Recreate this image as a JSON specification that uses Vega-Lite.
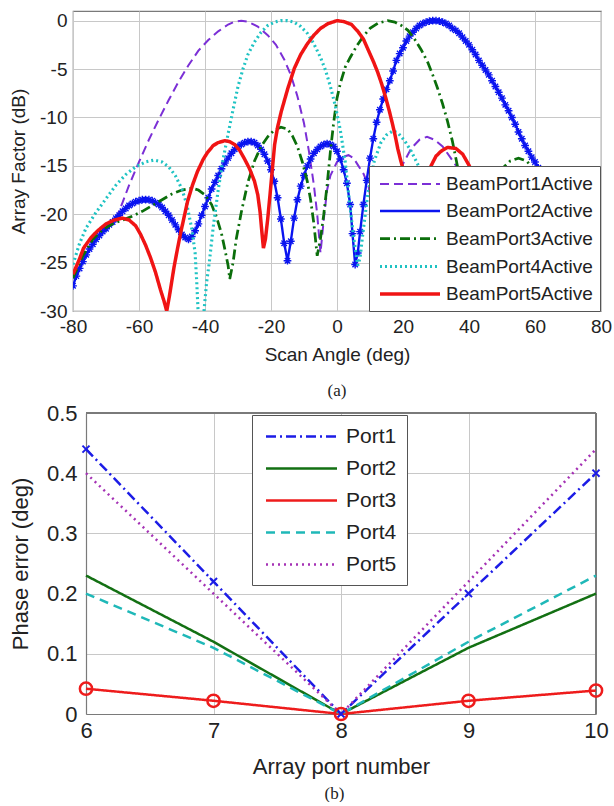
{
  "$schema": "https://vega.github.io/schema/vega-lite/v6.json",
  "background": "white",
  "padding": {"left": 8, "top": 10, "right": 2, "bottom": 0},
  "config": {
    "font": "Liberation Sans",
    "view": {"stroke": "#7a7a7a", "strokeWidth": 1.2},
    "axis": {"grid": true, "gridColor": "#c8c8c8", "gridWidth": 1, "domain": false, "ticks": false, "labelFont": "Liberation Sans", "titleFont": "Liberation Sans", "labelColor": "#222222", "titleColor": "#222222", "titleFontWeight": "normal", "labelFlush": false, "labelOverlap": false},
    "title": {"font": "Liberation Serif", "fontWeight": "normal", "color": "#222222"}
  },
  "datasets": {
    "af": [
      {"s":"BeamPort1Active","x":-67,"y":-20.5},{"s":"BeamPort1Active","x":-65,"y":-18.8},{"s":"BeamPort1Active","x":-63,"y":-17},{"s":"BeamPort1Active","x":-60,"y":-14.6},{"s":"BeamPort1Active","x":-57,"y":-12.3},{"s":"BeamPort1Active","x":-54,"y":-10.2},{"s":"BeamPort1Active","x":-51,"y":-8.2},{"s":"BeamPort1Active","x":-48,"y":-6.3},{"s":"BeamPort1Active","x":-45,"y":-4.6},{"s":"BeamPort1Active","x":-42,"y":-3.1},{"s":"BeamPort1Active","x":-39,"y":-2.0},{"s":"BeamPort1Active","x":-36,"y":-1.1},{"s":"BeamPort1Active","x":-33,"y":-0.4},{"s":"BeamPort1Active","x":-31,"y":-0.1},{"s":"BeamPort1Active","x":-29,"y":0},{"s":"BeamPort1Active","x":-27,"y":-0.1},{"s":"BeamPort1Active","x":-24,"y":-0.6},{"s":"BeamPort1Active","x":-21,"y":-1.5},{"s":"BeamPort1Active","x":-18.5,"y":-2.5},{"s":"BeamPort1Active","x":-16,"y":-4.0},{"s":"BeamPort1Active","x":-14,"y":-5.6},{"s":"BeamPort1Active","x":-12,"y":-7.8},{"s":"BeamPort1Active","x":-10,"y":-10.6},{"s":"BeamPort1Active","x":-8.5,"y":-13.5},{"s":"BeamPort1Active","x":-7,"y":-17},{"s":"BeamPort1Active","x":-6,"y":-20},{"s":"BeamPort1Active","x":-5,"y":-24},{"s":"BeamPort1Active","x":-4,"y":-20.5},{"s":"BeamPort1Active","x":-3,"y":-17.5},{"s":"BeamPort1Active","x":-2,"y":-16},{"s":"BeamPort1Active","x":0,"y":-14.6},{"s":"BeamPort1Active","x":1.5,"y":-14.1},{"s":"BeamPort1Active","x":3.5,"y":-13.9},{"s":"BeamPort1Active","x":5,"y":-14.2},{"s":"BeamPort1Active","x":6.5,"y":-15},{"s":"BeamPort1Active","x":8,"y":-15.8},{"s":"BeamPort1Active","x":9.5,"y":-17},{"s":"BeamPort1Active","x":11,"y":-20},{"s":"BeamPort1Active","x":12.5,"y":-24},{"s":"BeamPort1Active","x":14,"y":-21},{"s":"BeamPort1Active","x":16,"y":-18},{"s":"BeamPort1Active","x":18,"y":-16.5},{"s":"BeamPort1Active","x":20,"y":-14.8},{"s":"BeamPort1Active","x":22.5,"y":-13.2},{"s":"BeamPort1Active","x":25,"y":-12.3},{"s":"BeamPort1Active","x":27.3,"y":-12},{"s":"BeamPort1Active","x":29.5,"y":-12.3},{"s":"BeamPort1Active","x":32,"y":-13},{"s":"BeamPort1Active","x":34.5,"y":-14.2},{"s":"BeamPort1Active","x":36.5,"y":-15.2},{"s":"BeamPort1Active","x":38.5,"y":-17},{"s":"BeamPort1Active","x":41,"y":-20.5},{"s":"BeamPort1Active","x":43.5,"y":-25},{"s":"BeamPort1Active","x":46,"y":-21},{"s":"BeamPort1Active","x":50,"y":-18},{"s":"BeamPort1Active","x":55,"y":-17.5},{"s":"BeamPort1Active","x":60,"y":-18.5},{"s":"BeamPort1Active","x":66,"y":-20.5},{"s":"BeamPort1Active","x":72,"y":-22.5},{"s":"BeamPort1Active","x":80,"y":-25},

      {"s":"BeamPort2Active","x":-80,"y":-27.4},{"s":"BeamPort2Active","x":-79,"y":-26.4},{"s":"BeamPort2Active","x":-78,"y":-25.6},{"s":"BeamPort2Active","x":-77,"y":-24.9},{"s":"BeamPort2Active","x":-76,"y":-24.2},{"s":"BeamPort2Active","x":-75,"y":-23.6},{"s":"BeamPort2Active","x":-74,"y":-23.1},{"s":"BeamPort2Active","x":-73,"y":-22.6},{"s":"BeamPort2Active","x":-72,"y":-22.2},{"s":"BeamPort2Active","x":-71,"y":-21.8},{"s":"BeamPort2Active","x":-70,"y":-21.5},{"s":"BeamPort2Active","x":-69,"y":-21.1},{"s":"BeamPort2Active","x":-68,"y":-20.8},{"s":"BeamPort2Active","x":-67,"y":-20.4},{"s":"BeamPort2Active","x":-66,"y":-20.1},{"s":"BeamPort2Active","x":-65,"y":-19.7},{"s":"BeamPort2Active","x":-64,"y":-19.4},{"s":"BeamPort2Active","x":-63,"y":-19.1},{"s":"BeamPort2Active","x":-62,"y":-18.9},{"s":"BeamPort2Active","x":-61,"y":-18.7},{"s":"BeamPort2Active","x":-60,"y":-18.6},{"s":"BeamPort2Active","x":-59,"y":-18.5},{"s":"BeamPort2Active","x":-58,"y":-18.5},{"s":"BeamPort2Active","x":-57,"y":-18.5},{"s":"BeamPort2Active","x":-56,"y":-18.6},{"s":"BeamPort2Active","x":-55,"y":-18.8},{"s":"BeamPort2Active","x":-54,"y":-19},{"s":"BeamPort2Active","x":-53,"y":-19.3},{"s":"BeamPort2Active","x":-52,"y":-19.7},{"s":"BeamPort2Active","x":-51,"y":-20.1},{"s":"BeamPort2Active","x":-50,"y":-20.6},{"s":"BeamPort2Active","x":-49,"y":-21.1},{"s":"BeamPort2Active","x":-48,"y":-21.6},{"s":"BeamPort2Active","x":-47,"y":-22.1},{"s":"BeamPort2Active","x":-46,"y":-22.4},{"s":"BeamPort2Active","x":-45,"y":-22.6},{"s":"BeamPort2Active","x":-44,"y":-22.3},{"s":"BeamPort2Active","x":-43,"y":-21.7},{"s":"BeamPort2Active","x":-42,"y":-21},{"s":"BeamPort2Active","x":-41,"y":-20.1},{"s":"BeamPort2Active","x":-40,"y":-19.2},{"s":"BeamPort2Active","x":-39,"y":-18.3},{"s":"BeamPort2Active","x":-38,"y":-17.4},{"s":"BeamPort2Active","x":-37,"y":-16.7},{"s":"BeamPort2Active","x":-36,"y":-16},{"s":"BeamPort2Active","x":-35,"y":-15.3},{"s":"BeamPort2Active","x":-34,"y":-14.7},{"s":"BeamPort2Active","x":-33,"y":-14.2},{"s":"BeamPort2Active","x":-32,"y":-13.7},{"s":"BeamPort2Active","x":-31,"y":-13.3},{"s":"BeamPort2Active","x":-30,"y":-13},{"s":"BeamPort2Active","x":-29,"y":-12.8},{"s":"BeamPort2Active","x":-28,"y":-12.6},{"s":"BeamPort2Active","x":-27,"y":-12.5},{"s":"BeamPort2Active","x":-26,"y":-12.5},{"s":"BeamPort2Active","x":-25,"y":-12.6},{"s":"BeamPort2Active","x":-24,"y":-12.9},{"s":"BeamPort2Active","x":-23,"y":-13.3},{"s":"BeamPort2Active","x":-22,"y":-13.8},{"s":"BeamPort2Active","x":-21,"y":-14.5},{"s":"BeamPort2Active","x":-20,"y":-15.4},{"s":"BeamPort2Active","x":-19,"y":-16.6},{"s":"BeamPort2Active","x":-18,"y":-18.3},{"s":"BeamPort2Active","x":-17,"y":-20.5},{"s":"BeamPort2Active","x":-16,"y":-23},{"s":"BeamPort2Active","x":-15,"y":-24.8},{"s":"BeamPort2Active","x":-14,"y":-22.8},{"s":"BeamPort2Active","x":-13,"y":-20.4},{"s":"BeamPort2Active","x":-12,"y":-18.5},{"s":"BeamPort2Active","x":-11,"y":-17.1},{"s":"BeamPort2Active","x":-10,"y":-16},{"s":"BeamPort2Active","x":-9,"y":-15},{"s":"BeamPort2Active","x":-8,"y":-14.3},{"s":"BeamPort2Active","x":-7,"y":-13.7},{"s":"BeamPort2Active","x":-6,"y":-13.3},{"s":"BeamPort2Active","x":-5,"y":-13},{"s":"BeamPort2Active","x":-4,"y":-12.8},{"s":"BeamPort2Active","x":-3,"y":-12.7},{"s":"BeamPort2Active","x":-2,"y":-12.8},{"s":"BeamPort2Active","x":-1,"y":-13},{"s":"BeamPort2Active","x":0,"y":-13.5},{"s":"BeamPort2Active","x":1,"y":-14.3},{"s":"BeamPort2Active","x":2,"y":-15.4},{"s":"BeamPort2Active","x":3,"y":-16.8},{"s":"BeamPort2Active","x":4,"y":-19},{"s":"BeamPort2Active","x":4.7,"y":-22},{"s":"BeamPort2Active","x":5.5,"y":-25.2},{"s":"BeamPort2Active","x":6.3,"y":-24},{"s":"BeamPort2Active","x":7,"y":-21.8},{"s":"BeamPort2Active","x":8,"y":-19},{"s":"BeamPort2Active","x":9,"y":-16.5},{"s":"BeamPort2Active","x":10,"y":-14.2},{"s":"BeamPort2Active","x":11,"y":-12.2},{"s":"BeamPort2Active","x":12,"y":-10.5},{"s":"BeamPort2Active","x":13,"y":-9.2},{"s":"BeamPort2Active","x":14,"y":-8.1},{"s":"BeamPort2Active","x":15,"y":-7.1},{"s":"BeamPort2Active","x":16,"y":-6.2},{"s":"BeamPort2Active","x":17,"y":-5.2},{"s":"BeamPort2Active","x":18,"y":-4.1},{"s":"BeamPort2Active","x":19,"y":-3.4},{"s":"BeamPort2Active","x":20,"y":-2.8},{"s":"BeamPort2Active","x":21,"y":-2.1},{"s":"BeamPort2Active","x":22,"y":-1.6},{"s":"BeamPort2Active","x":23,"y":-1.2},{"s":"BeamPort2Active","x":24,"y":-0.8},{"s":"BeamPort2Active","x":25,"y":-0.5},{"s":"BeamPort2Active","x":26,"y":-0.3},{"s":"BeamPort2Active","x":27,"y":-0.15},{"s":"BeamPort2Active","x":28,"y":-0.05},{"s":"BeamPort2Active","x":29,"y":0},{"s":"BeamPort2Active","x":30,"y":0},{"s":"BeamPort2Active","x":31,"y":-0.05},{"s":"BeamPort2Active","x":32,"y":-0.15},{"s":"BeamPort2Active","x":33,"y":-0.3},{"s":"BeamPort2Active","x":34,"y":-0.5},{"s":"BeamPort2Active","x":35,"y":-0.8},{"s":"BeamPort2Active","x":36,"y":-1.0},{"s":"BeamPort2Active","x":37,"y":-1.3},{"s":"BeamPort2Active","x":38,"y":-1.7},{"s":"BeamPort2Active","x":39,"y":-2.1},{"s":"BeamPort2Active","x":40,"y":-2.5},{"s":"BeamPort2Active","x":41,"y":-3.0},{"s":"BeamPort2Active","x":42,"y":-3.5},{"s":"BeamPort2Active","x":43,"y":-4.1},{"s":"BeamPort2Active","x":44,"y":-4.6},{"s":"BeamPort2Active","x":45,"y":-5.1},{"s":"BeamPort2Active","x":46,"y":-5.6},{"s":"BeamPort2Active","x":47,"y":-6.2},{"s":"BeamPort2Active","x":48,"y":-6.8},{"s":"BeamPort2Active","x":49,"y":-7.4},{"s":"BeamPort2Active","x":50,"y":-8.0},{"s":"BeamPort2Active","x":51,"y":-8.7},{"s":"BeamPort2Active","x":52,"y":-9.3},{"s":"BeamPort2Active","x":53,"y":-10},{"s":"BeamPort2Active","x":54,"y":-10.7},{"s":"BeamPort2Active","x":55,"y":-11.5},{"s":"BeamPort2Active","x":56,"y":-12.2},{"s":"BeamPort2Active","x":57,"y":-12.9},{"s":"BeamPort2Active","x":58,"y":-13.5},{"s":"BeamPort2Active","x":59,"y":-14.1},{"s":"BeamPort2Active","x":60,"y":-14.6},{"s":"BeamPort2Active","x":61,"y":-15.2},{"s":"BeamPort2Active","x":63,"y":-16.8},{"s":"BeamPort2Active","x":66,"y":-19.5},{"s":"BeamPort2Active","x":69,"y":-24},{"s":"BeamPort2Active","x":71,"y":-27},{"s":"BeamPort2Active","x":74,"y":-25},{"s":"BeamPort2Active","x":77,"y":-26},{"s":"BeamPort2Active","x":80,"y":-27.7},

      {"s":"BeamPort3Active","x":-80,"y":-26.6},{"s":"BeamPort3Active","x":-77,"y":-24.3},{"s":"BeamPort3Active","x":-74,"y":-22.6},{"s":"BeamPort3Active","x":-71,"y":-21.6},{"s":"BeamPort3Active","x":-68,"y":-21},{"s":"BeamPort3Active","x":-65,"y":-20.6},{"s":"BeamPort3Active","x":-62,"y":-20.2},{"s":"BeamPort3Active","x":-59,"y":-19.7},{"s":"BeamPort3Active","x":-56,"y":-19.1},{"s":"BeamPort3Active","x":-53,"y":-18.5},{"s":"BeamPort3Active","x":-50,"y":-17.9},{"s":"BeamPort3Active","x":-47,"y":-17.5},{"s":"BeamPort3Active","x":-44,"y":-17.3},{"s":"BeamPort3Active","x":-42,"y":-17.5},{"s":"BeamPort3Active","x":-40,"y":-18},{"s":"BeamPort3Active","x":-38,"y":-19},{"s":"BeamPort3Active","x":-36.5,"y":-20.3},{"s":"BeamPort3Active","x":-35,"y":-22},{"s":"BeamPort3Active","x":-34,"y":-23.6},{"s":"BeamPort3Active","x":-33,"y":-25.3},{"s":"BeamPort3Active","x":-32.5,"y":-26.7},{"s":"BeamPort3Active","x":-31.5,"y":-25},{"s":"BeamPort3Active","x":-30.5,"y":-22.5},{"s":"BeamPort3Active","x":-29,"y":-19.8},{"s":"BeamPort3Active","x":-27,"y":-16.7},{"s":"BeamPort3Active","x":-25,"y":-14.5},{"s":"BeamPort3Active","x":-23,"y":-13},{"s":"BeamPort3Active","x":-21,"y":-12},{"s":"BeamPort3Active","x":-19,"y":-11.3},{"s":"BeamPort3Active","x":-17,"y":-11},{"s":"BeamPort3Active","x":-15,"y":-11.2},{"s":"BeamPort3Active","x":-13.5,"y":-11.9},{"s":"BeamPort3Active","x":-12,"y":-13},{"s":"BeamPort3Active","x":-10.5,"y":-14.6},{"s":"BeamPort3Active","x":-9,"y":-16.6},{"s":"BeamPort3Active","x":-8,"y":-18.5},{"s":"BeamPort3Active","x":-7,"y":-21},{"s":"BeamPort3Active","x":-6,"y":-24.3},{"s":"BeamPort3Active","x":-5,"y":-22.5},{"s":"BeamPort3Active","x":-4,"y":-20},{"s":"BeamPort3Active","x":-3,"y":-17},{"s":"BeamPort3Active","x":-2,"y":-13.5},{"s":"BeamPort3Active","x":-1,"y":-10.5},{"s":"BeamPort3Active","x":0,"y":-8},{"s":"BeamPort3Active","x":1,"y":-6.5},{"s":"BeamPort3Active","x":2.5,"y":-4.8},{"s":"BeamPort3Active","x":4,"y":-3.8},{"s":"BeamPort3Active","x":6,"y":-2.6},{"s":"BeamPort3Active","x":8,"y":-1.6},{"s":"BeamPort3Active","x":10,"y":-0.8},{"s":"BeamPort3Active","x":12.5,"y":-0.25},{"s":"BeamPort3Active","x":15.4,"y":0},{"s":"BeamPort3Active","x":17.5,"y":-0.15},{"s":"BeamPort3Active","x":19.5,"y":-0.5},{"s":"BeamPort3Active","x":21.5,"y":-1.0},{"s":"BeamPort3Active","x":23.5,"y":-1.9},{"s":"BeamPort3Active","x":25.5,"y":-3.0},{"s":"BeamPort3Active","x":27.5,"y":-4.3},{"s":"BeamPort3Active","x":29,"y":-5.6},{"s":"BeamPort3Active","x":30.5,"y":-7.0},{"s":"BeamPort3Active","x":32,"y":-8.6},{"s":"BeamPort3Active","x":33.5,"y":-10.4},{"s":"BeamPort3Active","x":35,"y":-12.5},{"s":"BeamPort3Active","x":36.6,"y":-15.2},{"s":"BeamPort3Active","x":38,"y":-17.8},{"s":"BeamPort3Active","x":40,"y":-22},{"s":"BeamPort3Active","x":42,"y":-26},{"s":"BeamPort3Active","x":44,"y":-22},{"s":"BeamPort3Active","x":47,"y":-17.5},{"s":"BeamPort3Active","x":50,"y":-15.3},{"s":"BeamPort3Active","x":52.5,"y":-14.5},{"s":"BeamPort3Active","x":55,"y":-14.2},{"s":"BeamPort3Active","x":57.5,"y":-14.5},{"s":"BeamPort3Active","x":59.5,"y":-15.3},{"s":"BeamPort3Active","x":62,"y":-17},{"s":"BeamPort3Active","x":65,"y":-19.5},{"s":"BeamPort3Active","x":68,"y":-22},{"s":"BeamPort3Active","x":72,"y":-25},{"s":"BeamPort3Active","x":76,"y":-27},{"s":"BeamPort3Active","x":80,"y":-28.5},

      {"s":"BeamPort4Active","x":-80,"y":-25.2},{"s":"BeamPort4Active","x":-78,"y":-23},{"s":"BeamPort4Active","x":-76,"y":-21.4},{"s":"BeamPort4Active","x":-73,"y":-19.8},{"s":"BeamPort4Active","x":-70,"y":-18.4},{"s":"BeamPort4Active","x":-67,"y":-17},{"s":"BeamPort4Active","x":-64,"y":-15.9},{"s":"BeamPort4Active","x":-61,"y":-15.1},{"s":"BeamPort4Active","x":-58,"y":-14.6},{"s":"BeamPort4Active","x":-55.5,"y":-14.4},{"s":"BeamPort4Active","x":-53,"y":-14.6},{"s":"BeamPort4Active","x":-51,"y":-15.1},{"s":"BeamPort4Active","x":-49,"y":-16},{"s":"BeamPort4Active","x":-47,"y":-17.4},{"s":"BeamPort4Active","x":-45.5,"y":-19},{"s":"BeamPort4Active","x":-44,"y":-21.5},{"s":"BeamPort4Active","x":-43,"y":-24},{"s":"BeamPort4Active","x":-42.5,"y":-27},{"s":"BeamPort4Active","x":-42.1,"y":-30},{"s":"BeamPort4Active","x":-41.2,"y":-36},{"s":"BeamPort4Active","x":-40.3,"y":-30},{"s":"BeamPort4Active","x":-39.5,"y":-27},{"s":"BeamPort4Active","x":-38.7,"y":-25},{"s":"BeamPort4Active","x":-37.5,"y":-21.3},{"s":"BeamPort4Active","x":-36,"y":-17.5},{"s":"BeamPort4Active","x":-34.5,"y":-14.3},{"s":"BeamPort4Active","x":-33,"y":-11.7},{"s":"BeamPort4Active","x":-31.5,"y":-9.2},{"s":"BeamPort4Active","x":-30,"y":-6.8},{"s":"BeamPort4Active","x":-28.5,"y":-5},{"s":"BeamPort4Active","x":-27,"y":-3.5},{"s":"BeamPort4Active","x":-25,"y":-2.2},{"s":"BeamPort4Active","x":-23,"y":-1.2},{"s":"BeamPort4Active","x":-21,"y":-0.5},{"s":"BeamPort4Active","x":-19,"y":-0.15},{"s":"BeamPort4Active","x":-17,"y":0},{"s":"BeamPort4Active","x":-15,"y":0},{"s":"BeamPort4Active","x":-13,"y":-0.15},{"s":"BeamPort4Active","x":-11,"y":-0.6},{"s":"BeamPort4Active","x":-9,"y":-1.3},{"s":"BeamPort4Active","x":-7,"y":-2.4},{"s":"BeamPort4Active","x":-5,"y":-3.8},{"s":"BeamPort4Active","x":-3.5,"y":-5.1},{"s":"BeamPort4Active","x":-2,"y":-6.8},{"s":"BeamPort4Active","x":-0.5,"y":-8.8},{"s":"BeamPort4Active","x":1,"y":-11.3},{"s":"BeamPort4Active","x":2.5,"y":-14.6},{"s":"BeamPort4Active","x":3.7,"y":-18.5},{"s":"BeamPort4Active","x":5,"y":-22.3},{"s":"BeamPort4Active","x":6.3,"y":-25.3},{"s":"BeamPort4Active","x":7,"y":-24.5},{"s":"BeamPort4Active","x":7.8,"y":-22.1},{"s":"BeamPort4Active","x":9.3,"y":-18},{"s":"BeamPort4Active","x":11.3,"y":-14.5},{"s":"BeamPort4Active","x":13.3,"y":-12.6},{"s":"BeamPort4Active","x":15,"y":-11.8},{"s":"BeamPort4Active","x":16.9,"y":-11.4},{"s":"BeamPort4Active","x":18.5,"y":-11.6},{"s":"BeamPort4Active","x":20.5,"y":-12.4},{"s":"BeamPort4Active","x":22.5,"y":-13.5},{"s":"BeamPort4Active","x":25,"y":-15.2},{"s":"BeamPort4Active","x":27,"y":-17.5},{"s":"BeamPort4Active","x":29.5,"y":-23},{"s":"BeamPort4Active","x":31,"y":-20},{"s":"BeamPort4Active","x":34,"y":-16.5},{"s":"BeamPort4Active","x":37,"y":-15.8},{"s":"BeamPort4Active","x":40,"y":-17},{"s":"BeamPort4Active","x":44,"y":-20},{"s":"BeamPort4Active","x":48,"y":-26},{"s":"BeamPort4Active","x":52,"y":-21},{"s":"BeamPort4Active","x":58,"y":-19},{"s":"BeamPort4Active","x":64,"y":-20},{"s":"BeamPort4Active","x":72,"y":-23},{"s":"BeamPort4Active","x":80,"y":-26},

      {"s":"BeamPort5Active","x":-80,"y":-26.2},{"s":"BeamPort5Active","x":-78,"y":-24.6},{"s":"BeamPort5Active","x":-76.8,"y":-23.5},{"s":"BeamPort5Active","x":-74.5,"y":-22.4},{"s":"BeamPort5Active","x":-72.5,"y":-21.7},{"s":"BeamPort5Active","x":-70,"y":-21},{"s":"BeamPort5Active","x":-67.5,"y":-20.6},{"s":"BeamPort5Active","x":-65,"y":-20.4},{"s":"BeamPort5Active","x":-63,"y":-20.6},{"s":"BeamPort5Active","x":-61,"y":-21.2},{"s":"BeamPort5Active","x":-59.5,"y":-22.1},{"s":"BeamPort5Active","x":-58,"y":-23.2},{"s":"BeamPort5Active","x":-56.5,"y":-24.5},{"s":"BeamPort5Active","x":-55,"y":-26},{"s":"BeamPort5Active","x":-53.5,"y":-27.8},{"s":"BeamPort5Active","x":-52.4,"y":-29},{"s":"BeamPort5Active","x":-51.6,"y":-30},{"s":"BeamPort5Active","x":-50.8,"y":-28.5},{"s":"BeamPort5Active","x":-49.4,"y":-25.5},{"s":"BeamPort5Active","x":-48.3,"y":-23.5},{"s":"BeamPort5Active","x":-47.3,"y":-21.8},{"s":"BeamPort5Active","x":-45.3,"y":-18.7},{"s":"BeamPort5Active","x":-43.8,"y":-17},{"s":"BeamPort5Active","x":-42.3,"y":-15.6},{"s":"BeamPort5Active","x":-40.5,"y":-14.3},{"s":"BeamPort5Active","x":-39.2,"y":-13.6},{"s":"BeamPort5Active","x":-37.5,"y":-12.9},{"s":"BeamPort5Active","x":-36,"y":-12.6},{"s":"BeamPort5Active","x":-34,"y":-12.4},{"s":"BeamPort5Active","x":-32.5,"y":-12.5},{"s":"BeamPort5Active","x":-31,"y":-12.8},{"s":"BeamPort5Active","x":-29.5,"y":-13.4},{"s":"BeamPort5Active","x":-28,"y":-14.3},{"s":"BeamPort5Active","x":-26.5,"y":-15.3},{"s":"BeamPort5Active","x":-25,"y":-16.6},{"s":"BeamPort5Active","x":-24,"y":-18},{"s":"BeamPort5Active","x":-23.3,"y":-19.8},{"s":"BeamPort5Active","x":-22.8,"y":-21.7},{"s":"BeamPort5Active","x":-22.3,"y":-23.5},{"s":"BeamPort5Active","x":-21.7,"y":-22.6},{"s":"BeamPort5Active","x":-21,"y":-20.5},{"s":"BeamPort5Active","x":-20.3,"y":-18},{"s":"BeamPort5Active","x":-19.5,"y":-15},{"s":"BeamPort5Active","x":-18.9,"y":-12.8},{"s":"BeamPort5Active","x":-18,"y":-11},{"s":"BeamPort5Active","x":-16.9,"y":-9.4},{"s":"BeamPort5Active","x":-14.9,"y":-7},{"s":"BeamPort5Active","x":-12.9,"y":-4.9},{"s":"BeamPort5Active","x":-11,"y":-3.5},{"s":"BeamPort5Active","x":-9,"y":-2.4},{"s":"BeamPort5Active","x":-7,"y":-1.5},{"s":"BeamPort5Active","x":-5,"y":-0.8},{"s":"BeamPort5Active","x":-2.7,"y":-0.3},{"s":"BeamPort5Active","x":0,"y":0},{"s":"BeamPort5Active","x":2.2,"y":-0.1},{"s":"BeamPort5Active","x":4.4,"y":-0.4},{"s":"BeamPort5Active","x":6.3,"y":-1.1},{"s":"BeamPort5Active","x":8,"y":-1.9},{"s":"BeamPort5Active","x":9.3,"y":-2.9},{"s":"BeamPort5Active","x":11,"y":-4.2},{"s":"BeamPort5Active","x":12.3,"y":-5.3},{"s":"BeamPort5Active","x":13.5,"y":-6.5},{"s":"BeamPort5Active","x":14.8,"y":-8},{"s":"BeamPort5Active","x":15.9,"y":-9.4},{"s":"BeamPort5Active","x":16.9,"y":-10.8},{"s":"BeamPort5Active","x":17.7,"y":-12},{"s":"BeamPort5Active","x":18.4,"y":-13.2},{"s":"BeamPort5Active","x":19.2,"y":-14.3},{"s":"BeamPort5Active","x":19.9,"y":-15.2},{"s":"BeamPort5Active","x":21,"y":-17.5},{"s":"BeamPort5Active","x":22.5,"y":-21},{"s":"BeamPort5Active","x":24.5,"y":-25},{"s":"BeamPort5Active","x":26.5,"y":-19},{"s":"BeamPort5Active","x":28.5,"y":-15},{"s":"BeamPort5Active","x":30,"y":-14},{"s":"BeamPort5Active","x":31.5,"y":-13.5},{"s":"BeamPort5Active","x":33.5,"y":-13.1},{"s":"BeamPort5Active","x":36,"y":-13.2},{"s":"BeamPort5Active","x":38.1,"y":-13.8},{"s":"BeamPort5Active","x":40.1,"y":-15},{"s":"BeamPort5Active","x":42,"y":-17},{"s":"BeamPort5Active","x":45,"y":-22},{"s":"BeamPort5Active","x":48,"y":-28},{"s":"BeamPort5Active","x":51,"y":-23},{"s":"BeamPort5Active","x":56,"y":-20.5},{"s":"BeamPort5Active","x":62,"y":-21},{"s":"BeamPort5Active","x":68,"y":-23},{"s":"BeamPort5Active","x":74,"y":-25},{"s":"BeamPort5Active","x":80,"y":-26.6}
    ],
    "pe": [
      {"port":"Port1","n":6,"e":0.44},{"port":"Port1","n":7,"e":0.22},{"port":"Port1","n":8,"e":0},{"port":"Port1","n":9,"e":0.20},{"port":"Port1","n":10,"e":0.40},
      {"port":"Port2","n":6,"e":0.23},{"port":"Port2","n":7,"e":0.12},{"port":"Port2","n":8,"e":0},{"port":"Port2","n":9,"e":0.11},{"port":"Port2","n":10,"e":0.20},
      {"port":"Port3","n":6,"e":0.042},{"port":"Port3","n":7,"e":0.022},{"port":"Port3","n":8,"e":0},{"port":"Port3","n":9,"e":0.022},{"port":"Port3","n":10,"e":0.039},
      {"port":"Port4","n":6,"e":0.20},{"port":"Port4","n":7,"e":0.11},{"port":"Port4","n":8,"e":0},{"port":"Port4","n":9,"e":0.12},{"port":"Port4","n":10,"e":0.23},
      {"port":"Port5","n":6,"e":0.40},{"port":"Port5","n":7,"e":0.20},{"port":"Port5","n":8,"e":0},{"port":"Port5","n":9,"e":0.22},{"port":"Port5","n":10,"e":0.44}
    ]
  },
  "columns": 1,
  "spacing": 2,
  "resolve": {
    "scale": {"x": "independent", "y": "independent", "color": "independent", "strokeDash": "independent", "strokeWidth": "independent"},
    "legend": {"color": "independent", "strokeDash": "independent"}
  },
  "concat": [
    {
      "width": 528,
      "height": 300,
      "data": {"name": "af"},
      "title": {"text": "(a)", "orient": "bottom", "frame": "group", "anchor": "middle", "fontSize": 17, "offset": 19},
      "encoding": {
        "x": {"field": "x", "type": "quantitative", "scale": {"domain": [-80, 80], "nice": false, "zero": false},
          "axis": {"values": [-80, -60, -40, -20, 0, 20, 40, 60, 80], "title": "Scan Angle (deg)", "labelFontSize": 19, "titleFontSize": 19, "labelPadding": 6, "titlePadding": 9, "labelExpr": "datum.value + ''"}},
        "y": {"field": "y", "type": "quantitative", "scale": {"domain": [-30, 1], "nice": false, "zero": false},
          "axis": {"values": [0, -5, -10, -15, -20, -25, -30], "title": "Array Factor (dB)", "labelFontSize": 19, "titleFontSize": 19, "labelPadding": 6, "titlePadding": 11, "labelExpr": "datum.value + ''"}}
      },
      "layer": [
        {
          "transform": [{"filter": "datum.s == 'BeamPort1Active'"}],
          "mark": {"type": "line", "clip": true},
          "encoding": {
            "color": {"field": "s", "type": "nominal", "scale": {"domain": ["BeamPort1Active","BeamPort2Active","BeamPort3Active","BeamPort4Active","BeamPort5Active"], "range": ["#7b2fd6","#0a14f0","#0b6e0b","#1fc3c3","#f01414"]},
              "legend": {"title": null, "orient": "none", "legendX": 296, "legendY": 155, "symbolType": "M-3,0L3,0", "symbolSize": 400, "symbolStrokeWidth": 2, "labelFontSize": 19, "labelFont": "Liberation Sans", "labelColor": "#222222", "strokeColor": "#555555", "fillColor": "white", "padding": 7, "rowPadding": 5.5, "labelOffset": 24, "symbolOffset": 22, "labelLimit": 300}},
            "strokeDash": {"field": "s", "type": "nominal", "scale": {"domain": ["BeamPort1Active","BeamPort2Active","BeamPort3Active","BeamPort4Active","BeamPort5Active"], "range": [[9,5],[1,0],[10,4,2,4],[2,3],[1,0]]},
              "legend": {"title": null, "orient": "none", "legendX": 296, "legendY": 155, "symbolType": "M-3,0L3,0", "symbolSize": 400, "symbolStrokeWidth": 2, "labelFontSize": 19, "labelFont": "Liberation Sans", "labelColor": "#222222", "strokeColor": "#555555", "fillColor": "white", "padding": 7, "rowPadding": 5.5, "labelOffset": 24, "symbolOffset": 22, "labelLimit": 300}},
            "strokeWidth": {"field": "s", "type": "nominal", "scale": {"domain": ["BeamPort1Active","BeamPort2Active","BeamPort3Active","BeamPort4Active","BeamPort5Active"], "range": [2, 3.5, 2, 2, 2]}, "legend": null}
          }
        },
        {
          "transform": [{"filter": "datum.s == 'BeamPort2Active'"}],
          "mark": {"type": "line", "clip": true},
          "encoding": {
            "color": {"field": "s", "type": "nominal", "scale": {"domain": ["BeamPort1Active","BeamPort2Active","BeamPort3Active","BeamPort4Active","BeamPort5Active"], "range": ["#7b2fd6","#0a14f0","#0b6e0b","#1fc3c3","#f01414"]},
              "legend": {"title": null, "orient": "none", "legendX": 296, "legendY": 155, "symbolType": "M-3,0L3,0", "symbolSize": 400, "symbolStrokeWidth": 2, "labelFontSize": 19, "labelFont": "Liberation Sans", "labelColor": "#222222", "strokeColor": "#555555", "fillColor": "white", "padding": 7, "rowPadding": 5.5, "labelOffset": 24, "symbolOffset": 22, "labelLimit": 300}},
            "strokeDash": {"field": "s", "type": "nominal", "scale": {"domain": ["BeamPort1Active","BeamPort2Active","BeamPort3Active","BeamPort4Active","BeamPort5Active"], "range": [[9,5],[1,0],[10,4,2,4],[2,3],[1,0]]},
              "legend": {"title": null, "orient": "none", "legendX": 296, "legendY": 155, "symbolType": "M-3,0L3,0", "symbolSize": 400, "symbolStrokeWidth": 2, "labelFontSize": 19, "labelFont": "Liberation Sans", "labelColor": "#222222", "strokeColor": "#555555", "fillColor": "white", "padding": 7, "rowPadding": 5.5, "labelOffset": 24, "symbolOffset": 22, "labelLimit": 300}},
            "strokeWidth": {"field": "s", "type": "nominal", "scale": {"domain": ["BeamPort1Active","BeamPort2Active","BeamPort3Active","BeamPort4Active","BeamPort5Active"], "range": [2, 3.5, 2, 2, 2]}, "legend": null}
          }
        },
        {
          "transform": [{"filter": "datum.s == 'BeamPort2Active'"}],
          "mark": {"type": "point", "clip": true, "filled": false, "shape": "M-1,0L1,0M0,-1L0,1M-0.7,-0.7L0.7,0.7M-0.7,0.7L0.7,-0.7", "size": 60, "strokeWidth": 1.4, "color": "#0a14f0", "opacity": 1}
        },
        {
          "transform": [{"filter": "datum.s != 'BeamPort1Active' && datum.s != 'BeamPort2Active'"}],
          "mark": {"type": "line", "clip": true},
          "encoding": {
            "color": {"field": "s", "type": "nominal", "scale": {"domain": ["BeamPort1Active","BeamPort2Active","BeamPort3Active","BeamPort4Active","BeamPort5Active"], "range": ["#7b2fd6","#0a14f0","#0b6e0b","#1fc3c3","#f01414"]},
              "legend": {"title": null, "orient": "none", "legendX": 296, "legendY": 155, "symbolType": "M-3,0L3,0", "symbolSize": 400, "symbolStrokeWidth": 2, "labelFontSize": 19, "labelFont": "Liberation Sans", "labelColor": "#222222", "strokeColor": "#555555", "fillColor": "white", "padding": 7, "rowPadding": 5.5, "labelOffset": 24, "symbolOffset": 22, "labelLimit": 300}},
            "strokeDash": {"field": "s", "type": "nominal", "scale": {"domain": ["BeamPort1Active","BeamPort2Active","BeamPort3Active","BeamPort4Active","BeamPort5Active"], "range": [[9,5],[1,0],[10,4,2,4],[2,3],[1,0]]},
              "legend": {"title": null, "orient": "none", "legendX": 296, "legendY": 155, "symbolType": "M-3,0L3,0", "symbolSize": 400, "symbolStrokeWidth": 2, "labelFontSize": 19, "labelFont": "Liberation Sans", "labelColor": "#222222", "strokeColor": "#555555", "fillColor": "white", "padding": 7, "rowPadding": 5.5, "labelOffset": 24, "symbolOffset": 22, "labelLimit": 300}},
            "strokeWidth": {"field": "s", "type": "nominal", "scale": {"domain": ["BeamPort1Active","BeamPort2Active","BeamPort3Active","BeamPort4Active","BeamPort5Active"], "range": [2, 3.5, 2, 2, 2]}, "legend": null}
          }
        }
      ]
    },
    {
      "width": 523,
      "height": 301,
      "view": {"stroke": null},
      "data": {"name": "pe"},
      "title": {"text": "(b)", "orient": "bottom", "frame": "group", "anchor": "middle", "fontSize": 17, "offset": 9},
      "encoding": {
        "x": {"field": "n", "type": "quantitative", "scale": {"domain": [6, 10], "range": [13, 523], "nice": false, "zero": false},
          "axis": {"values": [6, 7, 8, 9, 10], "title": "Array port number", "labelFontSize": 22, "titleFontSize": 22, "labelPadding": 6, "titlePadding": 15, "domain": true, "domainColor": "#7a7a7a", "domainWidth": 1.2}},
        "y": {"field": "e", "type": "quantitative", "scale": {"domain": [0, 0.5], "nice": false},
          "axis": {"values": [0, 0.1, 0.2, 0.3, 0.4, 0.5], "format": "~g", "title": "Phase error (deg)", "labelFontSize": 22, "titleFontSize": 22, "labelPadding": 9, "titlePadding": 14, "offset": -13, "domain": true, "domainColor": "#7a7a7a", "domainWidth": 1.2}}
      },
      "layer": [
        {
          "mark": {"type": "rule", "color": "#7a7a7a", "strokeWidth": 1.2},
          "encoding": {"x": {"datum": 6}, "x2": {"datum": 10}, "y": {"datum": 0.5}}
        },
        {
          "mark": {"type": "rule", "color": "#7a7a7a", "strokeWidth": 1.2},
          "encoding": {"x": {"datum": 10}, "y": {"datum": 0}, "y2": {"datum": 0.5}}
        },
        {
          "mark": {"type": "line", "clip": false},
          "encoding": {
            "color": {"field": "port", "type": "nominal", "scale": {"domain": ["Port1","Port2","Port3","Port4","Port5"], "range": ["#1c1ce6","#137013","#ee1c1c","#1fb8b8","#a532b5"]},
              "legend": {"title": null, "orient": "none", "legendX": 179, "legendY": 2, "symbolType": "M-3.55,0L3.55,0", "symbolSize": 400, "symbolStrokeWidth": 2.5, "labelFontSize": 21, "labelFont": "Liberation Sans", "labelColor": "#222222", "strokeColor": "#555555", "fillColor": "white", "padding": 10, "rowPadding": 10, "labelOffset": 33, "symbolOffset": 28, "labelLimit": 300}},
            "strokeDash": {"field": "port", "type": "nominal", "scale": {"domain": ["Port1","Port2","Port3","Port4","Port5"], "range": [[10,4,2,4],[1,0],[1,0],[9,6],[2,4]]},
              "legend": {"title": null, "orient": "none", "legendX": 179, "legendY": 2, "symbolType": "M-3.55,0L3.55,0", "symbolSize": 400, "symbolStrokeWidth": 2.5, "labelFontSize": 21, "labelFont": "Liberation Sans", "labelColor": "#222222", "strokeColor": "#555555", "fillColor": "white", "padding": 10, "rowPadding": 10, "labelOffset": 33, "symbolOffset": 28, "labelLimit": 300}},
            "strokeWidth": {"field": "port", "type": "nominal", "scale": {"domain": ["Port1","Port2","Port3","Port4","Port5"], "range": [2.5, 2.5, 2.5, 2.5, 2.5]}, "legend": null}
          }
        },
        {
          "transform": [{"filter": "datum.port == 'Port1'"}],
          "mark": {"type": "point", "filled": false, "shape": "M-1,-1L1,1M-1,1L1,-1", "size": 50, "strokeWidth": 2, "color": "#1c1ce6", "opacity": 1}
        },
        {
          "transform": [{"filter": "datum.port == 'Port3'"}],
          "mark": {"type": "point", "filled": false, "shape": "circle", "size": 150, "strokeWidth": 2.5, "color": "#ee1c1c", "opacity": 1}
        }
      ]
    }
  ]
}
